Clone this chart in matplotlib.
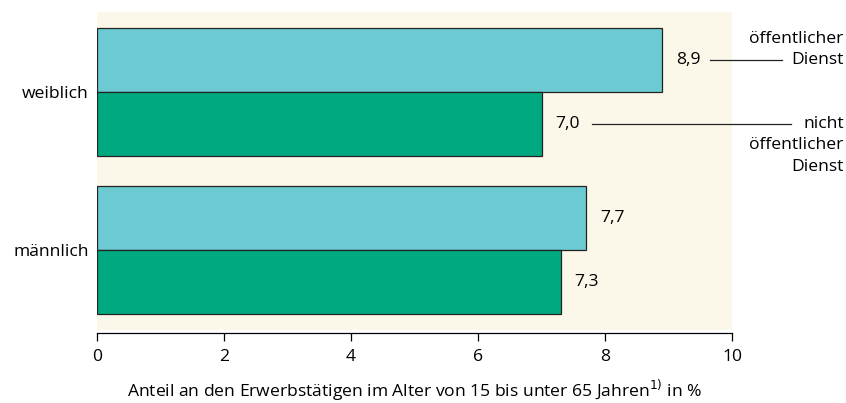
import matplotlib.pyplot as plt
import numpy as np

plt.rcParams["font.family"] = ["Open Sans", "DejaVu Sans"]

groups = ["männlich", "weiblich"]
oeffentlich = [7.7, 8.9]
nicht_oeffentlich = [7.3, 7.0]
xticks = [0, 2, 4, 6, 8, 10]

cyan = "#6ccbd2"
green = "#00a97f"
cream = "#fcf8e9"
fs = 12.6

fig = plt.figure(figsize=(8.46, 4.03), dpi=100)
ax = fig.add_axes([97 / 846, 73 / 403, 635 / 846, 318 / 403])
ax.set_facecolor(cream)

y = np.arange(len(groups))
h = 0.405
ax.barh(y + h / 2, oeffentlich, height=h, color=cyan, edgecolor="#222222", lw=0.9)
ax.barh(y - h / 2, nicht_oeffentlich, height=h, color=green, edgecolor="#222222", lw=0.9)

for yy, v in zip(y + h / 2, oeffentlich):
    ax.text(v + 0.22, yy, f"{v:.1f}".replace(".", ","), va="center", ha="left", fontsize=fs)
for yy, v in zip(y - h / 2, nicht_oeffentlich):
    ax.text(v + 0.22, yy, f"{v:.1f}".replace(".", ","), va="center", ha="left", fontsize=fs)

# legend-like labels on the right
y1 = y[1] + h / 2
y2 = y[1] - h / 2
ax.plot([9.65, 10.78], [y1, y1], color="#222222", lw=0.9, clip_on=False)
ax.plot([7.8, 10.93], [y2, y2], color="#222222", lw=0.9, clip_on=False)
xt = 11.76
dl = 0.135
ax.text(xt, y1, "Dienst", ha="right", va="center", fontsize=fs, clip_on=False)
ax.text(xt, y1 + dl, "öffentlicher", ha="right", va="center", fontsize=fs, clip_on=False)
ax.text(xt, y2, "nicht", ha="right", va="center", fontsize=fs, clip_on=False)
ax.text(xt, y2 - dl, "öffentlicher", ha="right", va="center", fontsize=fs, clip_on=False)
ax.text(xt, y2 - 2 * dl, "Dienst", ha="right", va="center", fontsize=fs, clip_on=False)

for s in ["top", "right", "left"]:
    ax.spines[s].set_visible(False)
ax.spines["bottom"].set_linewidth(0.9)
ax.spines["bottom"].set_position(("outward", 2))

ax.set_xlim(0, 10)
ax.set_ylim(-0.506, 1.506)
ax.set_xticks(xticks)
ax.set_xticklabels([str(t) for t in xticks])
ax.set_yticks(y)
ax.set_yticklabels(groups)
ax.tick_params(axis="y", length=0, pad=6, labelsize=fs)
ax.tick_params(axis="x", length=6, width=0.9, pad=6, labelsize=fs)

fig.text(414.5 / 846, 13 / 403,
         "Anteil an den Erwerbstätigen im Alter von 15 bis unter 65 Jahren$^{1)}$ in %",
         ha="center", va="center", fontsize=fs)

fig.savefig("out.png", dpi=100)
